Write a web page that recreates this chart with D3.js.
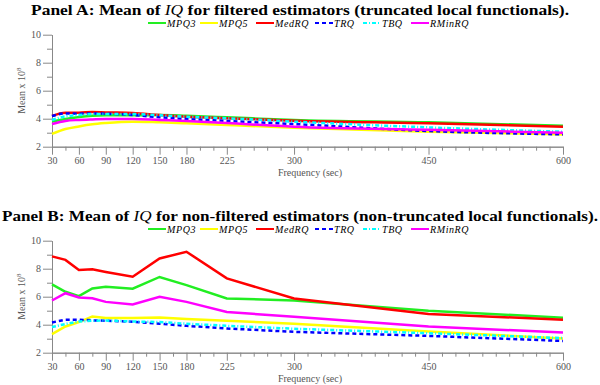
<!DOCTYPE html>
<html>
<head>
<meta charset="utf-8">
<script src="https://cdn.jsdelivr.net/npm/d3@7"></script>
<style>
  body { margin: 0; background: #fff; }
  svg { display: block; }
  svg text { font-family: "Liberation Serif", "Times New Roman", "DejaVu Serif", serif; }
</style>
</head>
<body>
<div id="chart"></div>
<script>
// frequencies (sec) at which the estimators were evaluated
var freqs = [30, 45, 60, 75, 90, 120, 150, 180, 225, 300, 450, 600];
var tickLabels = [30, 60, 90, 120, 150, 180, 225, 300, 450, 600];
var seriesNames = ["MPQ3", "MPQ5", "MedRQ", "TRQ", "TBQ", "RMinRQ"];

// Panel A: filtered estimators (mean x 10^8)
var aMPQ3 = [3.79, 3.98, 4.12, 4.21, 4.24, 4.24, 4.26, 4.21, 4.10, 3.91, 3.74, 3.50];
var aMPQ5 = [2.91, 3.26, 3.45, 3.60, 3.69, 3.79, 3.74, 3.67, 3.55, 3.36, 3.07, 2.88];
var aMedRQ = [4.19, 4.43, 4.43, 4.48, 4.45, 4.41, 4.26, 4.14, 4.03, 3.86, 3.67, 3.43];
var aTRQ = [4.19, 4.38, 4.36, 4.38, 4.36, 4.26, 4.10, 3.98, 3.84, 3.62, 3.12, 2.88];
var aTBQ = [3.91, 4.17, 4.26, 4.33, 4.33, 4.33, 4.24, 4.14, 4.03, 3.79, 3.38, 3.07];
var aRMinRQ = [3.62, 3.84, 3.91, 3.95, 3.98, 3.98, 3.91, 3.84, 3.69, 3.43, 3.21, 3.00];

// Panel B: non-filtered estimators (mean x 10^8)
var bMPQ3 = [6.88, 6.35, 6.04, 6.59, 6.71, 6.57, 7.41, 6.83, 5.87, 5.73, 5.00, 4.50];
var bMPQ5 = [3.33, 3.87, 4.19, 4.59, 4.48, 4.48, 4.52, 4.41, 4.28, 4.07, 3.51, 3.01];
var bMedRQ = [8.88, 8.63, 7.91, 7.96, 7.77, 7.43, 8.73, 9.21, 7.31, 5.87, 4.77, 4.36];
var bTRQ = [4.16, 4.36, 4.36, 4.31, 4.28, 4.21, 4.07, 3.92, 3.73, 3.49, 3.20, 2.84];
var bTBQ = [3.83, 4.05, 4.23, 4.28, 4.30, 4.23, 4.19, 4.07, 3.92, 3.71, 3.39, 3.04];
var bRMinRQ = [5.73, 6.25, 5.94, 5.89, 5.63, 5.44, 5.99, 5.63, 4.91, 4.57, 3.87, 3.44];

var colors = ["#22ee22", "#ffff00", "#ff0000", "#0000ff", "#00ffff", "#ff00ff"];
var dashes = [null, null, null, "4,3", "4,2,1,2", null];

var width = 600, height = 385;
var svg = d3.select("#chart").append("svg")
    .attr("width", width)
    .attr("height", height);

var x = d3.scaleLinear().domain([30, 600]).range([52, 563]);

function drawPanel(top, titleStart, titleEnd, italicPart, titleWidth, seriesVals, curve) {
    var g = svg.append("g").attr("transform", `translate(0, ${top})`);
    var y = d3.scaleLinear().domain([2, 10]).range([146.7, 34.7]);

    // title
    var title = g.append("text")
        .attr("x", 300)
        .attr("y", 15)
        .attr("text-anchor", "middle")
        .attr("font-weight", "bold")
        .attr("font-size", "15px")
        .attr("textLength", titleWidth)
        .attr("lengthAdjust", "spacingAndGlyphs");
    title.append("tspan").text(titleStart);
    title.append("tspan").attr("font-style", "italic").attr("font-weight", "normal").text(italicPart);
    title.append("tspan").text(titleEnd);

    // legend
    var legX = [148, 200, 256, 315, 363, 411];
    var leg = g.append("g").attr("transform", "translate(0, 23)");
    seriesNames.forEach(function(name, i) {
        leg.append("line")
            .attr("x1", legX[i]).attr("x2", legX[i] + 18)
            .attr("y1", 0).attr("y2", 0)
            .attr("stroke", colors[i])
            .attr("stroke-width", 2)
            .attr("stroke-dasharray", dashes[i]);
        leg.append("text")
            .attr("x", legX[i] + 19)
            .attr("y", 3.5)
            .attr("font-style", "italic")
            .attr("font-size", "10px")
            .attr("letter-spacing", "0.6px")
            .text(name);
    });

    // axes
    var axisColor = "#888";
    var xMinor = d3.range(30, 601, 15).filter(d => tickLabels.indexOf(d) < 0);
    var xAxisMinor = g.append("g")
        .attr("transform", "translate(0, 146.7)")
        .call(d3.axisBottom(x).tickValues(xMinor).tickSize(4).tickFormat("").tickSizeOuter(0));
    var xAxis = g.append("g")
        .attr("transform", "translate(0, 146.7)")
        .call(d3.axisBottom(x).tickValues(tickLabels).tickSize(8).tickSizeOuter(0).tickPadding(2));

    var yAxisMinor = g.append("g")
        .attr("transform", "translate(52, 0)")
        .call(d3.axisLeft(y).tickValues([3, 5, 7, 9]).tickSize(5).tickFormat("").tickSizeOuter(0));
    var yAxis = g.append("g")
        .attr("transform", "translate(52, 0)")
        .call(d3.axisLeft(y).tickValues([2, 4, 6, 8, 10]).tickSize(9).tickSizeOuter(0).tickPadding(2));

    [xAxisMinor, xAxis, yAxisMinor, yAxis].forEach(function(ax) {
        ax.attr("font-family", null);
        ax.selectAll("path, line").attr("stroke", axisColor);
        ax.selectAll("text")
            .attr("fill", "#555")
            .attr("font-size", "10px");
    });

    // axis labels
    g.append("text")
        .attr("x", 310)
        .attr("y", 176)
        .attr("text-anchor", "middle")
        .attr("fill", "#555")
        .attr("font-size", "10px")
        .text("Frequency (sec)");

    var yl = g.append("text")
        .attr("transform", "translate(25, 90.7) rotate(-90)")
        .attr("text-anchor", "middle")
        .attr("fill", "#555")
        .attr("font-size", "10px");
    yl.append("tspan").text("Mean x 10");
    yl.append("tspan").attr("dy", -4).attr("font-size", "7px").text("8");

    // lines
    var line = d3.line()
        .x((d, i) => x(freqs[i]))
        .y(d => y(d))
        .curve(curve);

    seriesVals.forEach(function(vals, i) {
        g.append("path")
            .datum(vals)
            .attr("d", line)
            .attr("fill", "none")
            .attr("stroke", colors[i])
            .attr("stroke-width", 2.5)
            .attr("stroke-dasharray", dashes[i]);
    });
}

drawPanel(0, "Panel A: Mean of ", " for filtered estimators (truncated local functionals).", "IQ", 538,
    [aMPQ3, aMPQ5, aMedRQ, aTRQ, aTBQ, aRMinRQ], d3.curveMonotoneX);
drawPanel(206, "Panel B: Mean of ", " for non-filtered estimators (non-truncated local functionals).", "IQ", 596,
    [bMPQ3, bMPQ5, bMedRQ, bTRQ, bTBQ, bRMinRQ], d3.curveLinear);
</script>
</body>
</html>
